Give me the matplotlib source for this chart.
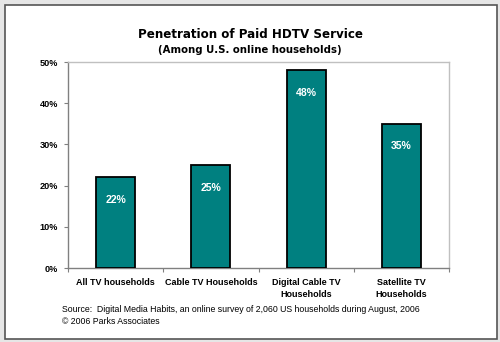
import matplotlib
matplotlib.use('Agg')
import matplotlib.pyplot as plt
from matplotlib.patches import Rectangle
from matplotlib import ticker

categories = ['All TV households', 'Cable TV Households', 'Digital Cable TV\nHouseholds', 'Satellite TV\nHouseholds']
values = [22, 25, 48, 35]
value_labels = ['22%', '25%', '48%', '35%']
yticks = [0, 10, 20, 30, 40, 50]

fig = plt.figure(figsize=(5, 3.42), dpi=100, facecolor='#e6e6e6')

# white card with dark frame, drawn behind the axes
W, H = 500, 342
card = Rectangle((5 / W, 1 - 339 / H), (497 - 5) / W, (339 - 5) / H, transform=fig.transFigure,
                 facecolor='white', edgecolor='#555555', linewidth=1.2, zorder=-1)
fig.patches.append(card)

ax = fig.add_axes([68 / W, 1 - 268 / H, (449 - 68) / W, (268 - 62) / H])
ax.set_facecolor('white')

x = list(range(len(categories)))
ax.bar(x, values, width=0.41, color='#008080', edgecolor='black', linewidth=1.3, zorder=3)

for i, v in enumerate(values):
    ax.text(i, v - 5.5, value_labels[i], color='white', fontsize=7.6, fontweight='bold',
            ha='center', va='center', family='Liberation Sans', zorder=4)

ax.set_xlim(-0.5, len(categories) - 0.5)
ax.set_ylim(0, 50)
ax.set_yticks(yticks)
ax.yaxis.set_major_formatter(ticker.FuncFormatter(lambda v, p: '%d%%' % v))
ax.tick_params(axis='y', direction='out', length=3, width=0.8, color='#808080', labelsize=6.6, pad=4)
for t in ax.get_yticklabels():
    t.set_fontweight('bold')
    t.set_family('Liberation Sans')

# tick marks between categories, labels centred under bars
ax.set_xticks([-0.5, 0.5, 1.5, 2.5, 3.5])
ax.set_xticklabels([])
ax.tick_params(axis='x', direction='out', length=3, width=0.8, color='#808080')
ax.set_xticks(x, minor=True)
ax.set_xticklabels(categories, minor=True, fontsize=6.5, fontweight='bold', family='Liberation Sans',
                   linespacing=1.45)
ax.tick_params(axis='x', which='minor', length=0, pad=7)

for side in ['left', 'bottom']:
    ax.spines[side].set_color('#808080')
    ax.spines[side].set_linewidth(1.0)
for side in ['top', 'right']:
    ax.spines[side].set_color('#c0c0c0')
    ax.spines[side].set_linewidth(1.0)

fig.text(0.5, 1 - 34 / H, 'Penetration of Paid HDTV Service', ha='center', va='center',
         fontsize=8.6, fontweight='bold', family='DejaVu Sans')
fig.text(0.5, 1 - 50 / H, '(Among U.S. online households)', ha='center', va='center',
         fontsize=7.3, fontweight='bold', family='DejaVu Sans')

fig.text(62 / W, 1 - 310 / H, 'Source:  Digital Media Habits, an online survey of 2,060 US households during August, 2006',
         ha='left', va='center', fontsize=6.3, family='Liberation Sans')
fig.text(62 / W, 1 - 321 / H, '\u00a9 2006 Parks Associates',
         ha='left', va='center', fontsize=6.3, family='Liberation Sans')

fig.savefig('out.png', dpi=100, facecolor=fig.get_facecolor())
